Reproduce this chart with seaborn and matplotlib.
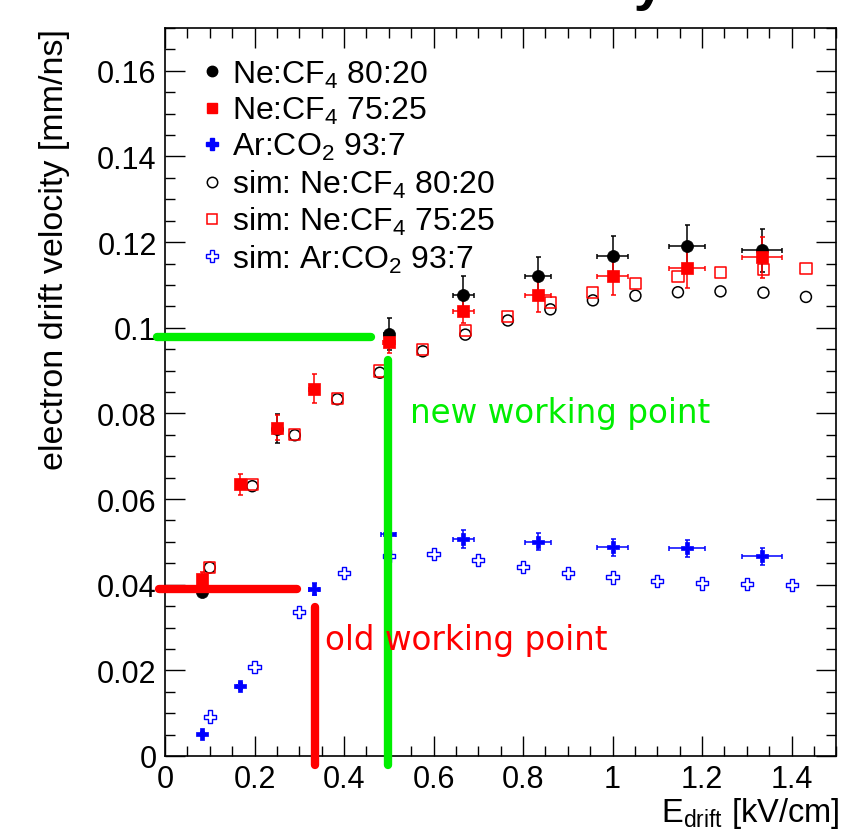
import numpy as np
import pandas as pd
import matplotlib
matplotlib.use("Agg")
import matplotlib.pyplot as plt
import seaborn as sns
from matplotlib.ticker import MultipleLocator, FixedLocator, FixedFormatter

# ---------------- data ----------------
ne80_x = [1/12, 3/12, 6/12, 8/12, 10/12, 12/12, 14/12, 16/12]
ne80_y = [0.0383, 0.0764, 0.0986, 0.1076, 0.1120, 0.1168, 0.1191, 0.1181]
ne80_yerr = [0.0010, 0.0034, 0.0037, 0.0045, 0.0046, 0.0047, 0.0048, 0.0050]
ne80_xerr = [0.003, 0.0085, 0.011, 0.023, 0.028, 0.034, 0.040, 0.045]

ne75_x = [1/12, 2/12, 3/12, 4/12, 6/12, 8/12, 10/12, 12/12, 14/12, 16/12]
ne75_y = [0.0414, 0.0634, 0.0767, 0.0858, 0.0966, 0.1040, 0.1077, 0.1122, 0.1140, 0.1165]
ne75_yerr = [0.0015, 0.0025, 0.0030, 0.0033, 0.0025, 0.0028, 0.0040, 0.0046, 0.0047, 0.0048]
ne75_xerr = [0.003, 0.0057, 0.0085, 0.011, 0.013, 0.023, 0.028, 0.034, 0.040, 0.045]

ar_x = [1/12, 2/12, 4/12, 6/12, 8/12, 10/12, 12/12, 14/12, 16/12]
ar_y = [0.0051, 0.0164, 0.0390, 0.0518, 0.0506, 0.0500, 0.0487, 0.0485, 0.0466]
ar_yerr = [0.0005, 0.0007, 0.0015, 0.0010, 0.0021, 0.0020, 0.0020, 0.0020, 0.0019]
ar_xerr = [0.003, 0.0057, 0.011, 0.017, 0.023, 0.028, 0.034, 0.040, 0.045]

sim_ne_x = [0.100, 0.195, 0.290, 0.385, 0.480, 0.576, 0.671, 0.766, 0.861,
            0.956, 1.051, 1.146, 1.241, 1.337, 1.432]
sim_ne80_y = [0.0440, 0.0630, 0.0749, 0.0833, 0.0895, 0.0945, 0.0984, 0.1017,
              0.1043, 0.1064, 0.1075, 0.1083, 0.1085, 0.1082, 0.1072]
sim_ne75_y = [0.0441, 0.0633, 0.0751, 0.0834, 0.0899, 0.0949, 0.0994, 0.1027,
              0.1058, 0.1083, 0.1103, 0.1119, 0.1130, 0.1137, 0.1139]

sim_ar_x = [0.1, 0.2, 0.3, 0.4, 0.5, 0.6, 0.7, 0.8, 0.9, 1.0, 1.1, 1.2, 1.3, 1.4]
sim_ar_y = [0.0092, 0.0208, 0.0337, 0.0427, 0.0467, 0.0471, 0.0458, 0.0442,
            0.0427, 0.0417, 0.0408, 0.0403, 0.0401, 0.0399]

labels = ["Ne:CF$_{4}$ 80:20", "Ne:CF$_{4}$ 75:25", "Ar:CO$_{2}$ 93:7",
          "sim: Ne:CF$_{4}$ 80:20", "sim: Ne:CF$_{4}$ 75:25", "sim: Ar:CO$_{2}$ 93:7"]

x_ticks = [0, 0.2, 0.4, 0.6, 0.8, 1.0, 1.2, 1.4]
x_ticklabels = ["0", "0.2", "0.4", "0.6", "0.8", "1", "1.2", "1.4"]
y_ticks = [0, 0.02, 0.04, 0.06, 0.08, 0.10, 0.12, 0.14, 0.16]
y_ticklabels = ["0", "0.02", "0.04", "0.06", "0.08", "0.1", "0.12", "0.14", "0.16"]

# working point guide lines: (x0, x1, y) horizontal and (x, y0, y1) vertical
old_wp_h = [-0.013, 0.296, 0.039]
old_wp_v = [0.335, 0.0348, -0.002]
new_wp_h = [-0.018, 0.460, 0.0978]
new_wp_v = [0.498, 0.0924, -0.002]

# ---------------- style ----------------
sns.set_theme(style="ticks")
plt.rcParams["font.family"] = ["Liberation Sans", "DejaVu Sans"]
plt.rcParams["mathtext.fontset"] = "custom"
plt.rcParams["mathtext.rm"] = "Liberation Sans"
plt.rcParams["mathtext.it"] = "Liberation Sans:italic"
plt.rcParams["mathtext.bf"] = "Liberation Sans:bold"
for k in ["text.color", "axes.labelcolor", "xtick.color", "ytick.color",
          "xtick.labelcolor", "ytick.labelcolor", "axes.edgecolor"]:
    plt.rcParams[k] = "black"

GREEN = "#00ee00"

fig = plt.figure(figsize=(8.45, 8.37), dpi=100)
ax = fig.add_axes([165 / 845, 80 / 837, 671.4 / 845, 728 / 837])

def df(x, y):
    return pd.DataFrame({"x": x, "y": y})

# simulations (open markers)
sns.scatterplot(data=df(sim_ne_x, sim_ne80_y), x="x", y="y", ax=ax,
                marker="o", s=62, color="black", facecolor="none",
                edgecolor="black", linewidth=1.1, zorder=3)
sns.scatterplot(data=df(sim_ne_x, sim_ne75_y), x="x", y="y", ax=ax,
                marker="s", s=64, color="red", facecolor="none",
                edgecolor="red", linewidth=1.1, zorder=3)
sns.scatterplot(data=df(sim_ar_x, sim_ar_y), x="x", y="y", ax=ax,
                marker="P", s=78, color="blue", facecolor="none",
                edgecolor="blue", linewidth=1.0, zorder=3)

# measurements (filled markers with error bars)
ekw = dict(fmt="none", elinewidth=1.1, capsize=1.8, capthick=1.1, zorder=4)
ax.errorbar(ne80_x, ne80_y, yerr=ne80_yerr, xerr=ne80_xerr, ecolor="black", **ekw)
sns.scatterplot(data=df(ne80_x, ne80_y), x="x", y="y", ax=ax, marker="o", s=75,
                color="black", edgecolor="black", linewidth=0.5, zorder=5)
ax.errorbar(ne75_x, ne75_y, yerr=ne75_yerr, xerr=ne75_xerr, ecolor="red", **ekw)
sns.scatterplot(data=df(ne75_x, ne75_y), x="x", y="y", ax=ax, marker="s", s=78,
                color="red", edgecolor="red", linewidth=0.5, zorder=6)
ax.errorbar(ar_x, ar_y, yerr=ar_yerr, xerr=ar_xerr, ecolor="blue", **ekw)
sns.scatterplot(data=df(ar_x, ar_y), x="x", y="y", ax=ax, marker="P", s=72,
                color="blue", edgecolor="blue", linewidth=0.5, zorder=6)

# working point guide lines
lkw = dict(lw=6, solid_capstyle="round", clip_on=False, zorder=8)
ax.plot(old_wp_h[:2], [old_wp_h[2]] * 2, color="red", **lkw)
ax.plot([old_wp_v[0]] * 2, old_wp_v[1:], color="red", **lkw)
ax.plot(new_wp_h[:2], [new_wp_h[2]] * 2, color=GREEN, **lkw)
ax.plot([new_wp_v[0]] * 2, new_wp_v[1:], color=GREEN, **lkw)

ax.text(0.547, 0.0779, "new working point", color=GREEN, fontsize=23.5,
        family="DejaVu Sans", va="baseline", ha="left", zorder=9)
ax.text(0.357, 0.0250, "old working point", color="red", fontsize=23.5,
        family="DejaVu Sans", va="baseline", ha="left", zorder=9)

# axes
ax.set_xlim(0, 1.5)
ax.set_ylim(0, 0.17)
ax.xaxis.set_major_locator(FixedLocator(x_ticks))
ax.xaxis.set_major_formatter(FixedFormatter(x_ticklabels))
ax.yaxis.set_major_locator(FixedLocator(y_ticks))
ax.yaxis.set_major_formatter(FixedFormatter(y_ticklabels))
ax.xaxis.set_minor_locator(MultipleLocator(0.05))
ax.yaxis.set_minor_locator(MultipleLocator(0.005))
ax.tick_params(which="both", direction="in", top=True, right=True,
               color="black", width=1.0)
ax.tick_params(which="major", length=14.5, labelsize=22, pad=6)
ax.tick_params(which="minor", length=7.5)
for sp in ax.spines.values():
    sp.set_linewidth(1.2)
    sp.set_color("black")

ax.set_xlabel("E$_{\\rm drift}$ [kV/cm]", loc="right", fontsize=23.5)
ax.xaxis.set_label_coords(1.005, -0.053)
ax.set_ylabel("electron drift velocity [mm/ns]", loc="top", fontsize=24.5)
ax.yaxis.set_label_coords(-0.1415, 1.0)

# legend
leg_handles = [
    plt.Line2D([], [], ls="none", marker="o", ms=7.5, color="black"),
    plt.Line2D([], [], ls="none", marker="s", ms=7.5, color="red"),
    plt.Line2D([], [], ls="none", marker="P", ms=8.5, color="blue"),
    plt.Line2D([], [], ls="none", marker="o", ms=7.5, mfc="none", mec="black", mew=1.1),
    plt.Line2D([], [], ls="none", marker="s", ms=7.5, mfc="none", mec="red", mew=1.1),
    plt.Line2D([], [], ls="none", marker="P", ms=8.5, mfc="none", mec="blue", mew=1.0),
]
ax.legend(leg_handles, labels, loc="upper left", bbox_to_anchor=(0.055, 0.958),
          frameon=False, fontsize=23, handlelength=0.6, handletextpad=0.33,
          labelspacing=0.165, borderpad=0, borderaxespad=0)

# partially visible title at the top edge (cut off as in the original)
fig.text(665 / 845, 1 + 1 / 837, "Drift velocity", ha="right", va="baseline",
         fontsize=40, fontweight="bold", color="black")

fig.savefig("out.png", dpi=100)
